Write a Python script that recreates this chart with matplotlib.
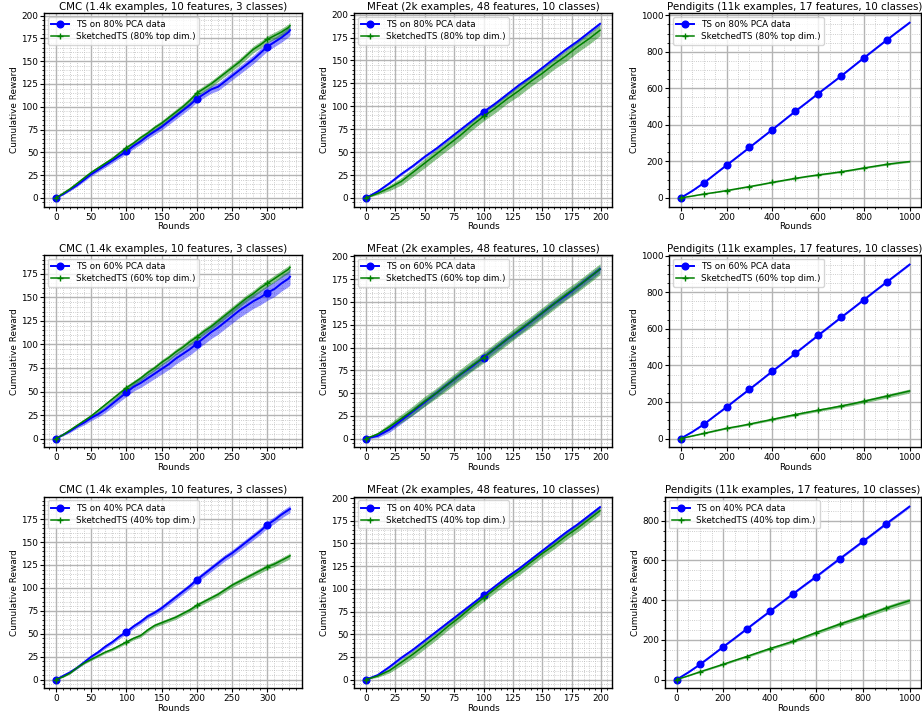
import matplotlib
matplotlib.use("Agg")
import matplotlib.pyplot as plt

# ---- rounds ----
cmc_rounds = list(range(0, 331, 10)) + [332]
mfeat_rounds = list(range(0, 191, 10)) + [199]
pend_rounds = list(range(0, 951, 50)) + [999]

# ---- CMC ----
cmc80_ts = [0, 4, 9, 14, 20, 26, 31, 36, 41, 46, 51, 57, 62, 68, 73, 78, 84, 90, 96, 102,
            109, 114, 119, 122, 128, 134, 140, 146, 152, 159, 166, 171, 176, 182, 184]
cmc80_ts_band = [0, 0.8, 1.2, 1.5, 1.8, 2.0, 2.2, 2.4, 2.6, 2.7, 2.8, 3.0, 3.1, 3.2, 3.3, 3.4,
                 3.5, 3.6, 3.7, 3.8, 3.9, 4.0, 4.1, 4.2, 4.3, 4.4, 4.5, 4.6, 4.7, 4.8, 4.9,
                 5.0, 5.1, 5.2, 5.2]
cmc80_sk = [0, 5, 10, 16, 22, 28, 33, 38, 43, 49, 55, 60, 66, 71, 77, 82, 88, 94, 100, 107,
            115, 120, 125, 131, 137, 143, 149, 156, 163, 168, 174, 178, 182, 187, 189]
cmc80_sk_band = [0, 0.7, 1.0, 1.3, 1.5, 1.7, 1.9, 2.0, 2.2, 2.3, 2.4, 2.5, 2.6, 2.7, 2.8, 2.9,
                 3.0, 3.1, 3.1, 3.2, 3.3, 3.3, 3.4, 3.4, 3.5, 3.5, 3.6, 3.6, 3.7, 3.7, 3.8,
                 3.8, 3.9, 3.9, 3.9]

cmc60_ts = [0, 4, 8, 13, 17, 22, 26, 31, 37, 43, 49, 55, 59, 64, 69, 74, 79, 85, 90, 95,
            101, 107, 113, 118, 124, 130, 136, 141, 146, 150, 155, 159, 165, 170, 172]
cmc60_ts_band = [0, 1.0, 1.5, 2.0, 2.4, 2.8, 3.0, 3.3, 3.6, 3.9, 4.2, 4.5, 4.7, 5.0, 5.2, 5.4,
                 5.6, 5.8, 6.0, 6.2, 6.4, 6.6, 6.8, 7.0, 7.1, 7.3, 7.4, 7.6, 7.7, 7.8, 8.0,
                 8.1, 8.2, 8.3, 8.3]
cmc60_sk = [0, 4, 9, 14, 19, 24, 30, 36, 42, 48, 54, 59, 64, 70, 75, 81, 86, 92, 97, 103,
            108, 114, 119, 125, 131, 137, 143, 149, 154, 160, 165, 170, 175, 180, 182]
cmc60_sk_band = [0, 0.7, 1.0, 1.3, 1.5, 1.7, 1.9, 2.0, 2.2, 2.3, 2.4, 2.5, 2.6, 2.7, 2.8, 2.9,
                 3.0, 3.0, 3.1, 3.2, 3.2, 3.3, 3.3, 3.4, 3.4, 3.5, 3.5, 3.6, 3.6, 3.7, 3.7,
                 3.7, 3.8, 3.8, 3.8]

cmc40_ts = [0, 4, 8, 13, 19, 25, 30, 36, 41, 47, 52, 58, 63, 69, 73, 78, 84, 90, 96, 102,
            109, 115, 121, 127, 133, 138, 144, 150, 156, 162, 169, 174, 180, 185, 186]
cmc40_ts_band = [0, 0.8, 1.0, 1.2, 1.4, 1.6, 1.8, 2.0, 2.1, 2.2, 2.3, 2.4, 2.5, 2.6, 2.7, 2.8,
                 2.9, 3.0, 3.0, 3.1, 3.2, 3.2, 3.3, 3.4, 3.4, 3.5, 3.5, 3.6, 3.6, 3.7, 3.7,
                 3.8, 3.8, 3.9, 3.9]
cmc40_sk = [0, 3, 7, 13, 18, 22, 26, 30, 33, 37, 41, 45, 48, 54, 59, 62, 65, 68, 72, 76,
            81, 85, 89, 93, 98, 103, 107, 111, 115, 119, 123, 126, 130, 134, 135]
cmc40_sk_band = [0, 0.6, 0.8, 1.0, 1.1, 1.2, 1.3, 1.4, 1.5, 1.6, 1.7, 1.8, 1.9, 2.0, 2.0, 2.1,
                 2.1, 2.2, 2.2, 2.3, 2.3, 2.4, 2.4, 2.5, 2.5, 2.6, 2.6, 2.7, 2.7, 2.8, 2.8,
                 2.9, 2.9, 3.0, 3.0]

# ---- MFeat ----
mf80_ts = [0, 7, 16, 26, 35, 45, 54, 64, 74, 84, 94, 103, 113, 123, 132, 142, 152, 162, 171, 181, 190]
mf80_ts_band = [0, 0.8, 1.0, 1.2, 1.3, 1.4, 1.5, 1.5, 1.5, 1.6, 1.6, 1.6, 1.7, 1.7, 1.7, 1.8,
                1.8, 1.8, 1.9, 1.9, 1.9]
mf80_sk = [0, 5, 11, 18, 28, 38, 48, 58, 68, 79, 89, 98, 108, 117, 127, 136, 146, 155, 165, 174, 183]
mf80_sk_band = [0, 1.5, 3, 4, 4.5, 5, 5, 5, 5, 5, 5, 5, 5, 5.5, 5.5, 5.5, 5.5, 6, 6, 6, 6]

mf60_ts = [0, 3, 10, 20, 30, 40, 50, 60, 70, 79, 89, 99, 109, 118, 128, 138, 148, 157, 167, 177, 186]
mf60_ts_band = [0, 2, 3, 3.5, 4, 4, 4, 4, 4, 4, 4, 4, 4, 4, 4, 4, 4, 4, 4, 4, 4]
mf60_sk = [0, 5, 13, 22, 31, 41, 50, 60, 70, 80, 89, 99, 109, 119, 128, 138, 148, 158, 167, 177, 186]
mf60_sk_band = [0, 2, 3.5, 4.5, 5, 5.5, 5.5, 6, 6, 6, 6, 6, 6, 6, 6, 6, 6, 6, 6, 6, 6]

mf40_ts = [0, 5, 14, 24, 33, 43, 53, 63, 73, 83, 93, 103, 113, 122, 132, 142, 152, 162, 171, 181, 190]
mf40_ts_band = [0, 1, 1.3, 1.5, 1.5, 1.6, 1.6, 1.6, 1.7, 1.7, 1.7, 1.7, 1.8, 1.8, 1.8, 1.8,
                1.8, 1.9, 1.9, 1.9, 1.9]
mf40_sk = [0, 4, 10, 19, 28, 38, 48, 59, 69, 80, 90, 100, 110, 119, 129, 139, 148, 158, 167, 177, 186]
mf40_sk_band = [0, 1.5, 2.5, 3.5, 4, 4, 4, 4, 4, 4, 4, 4, 4, 4, 4, 4, 4, 4, 4, 4, 4]

# ---- Pendigits ----
pd80_ts = [0, 38, 81, 130, 179, 227, 276, 325, 374, 424, 474, 522, 571, 619, 667, 717, 767,
           816, 865, 913, 959]
pd80_ts_band = [0, 2, 2, 2, 2.5, 2.5, 2.5, 2.5, 3, 3, 3, 3, 3, 3, 3, 3, 3.5, 3.5, 3.5, 3.5, 3.5]
pd80_sk = [0, 10, 21, 30, 40, 51, 62, 73, 85, 96, 107, 117, 126, 134, 143, 153, 164, 174, 184,
           192, 199]
pd80_sk_band = [0, 1, 2, 2, 2.5, 2.5, 3, 3, 3, 3.5, 3.5, 3.5, 4, 4, 4, 4, 4, 4.5, 4.5, 4.5, 4.5]

pd60_ts = [0, 36, 77, 125, 172, 221, 269, 318, 368, 416, 465, 515, 564, 613, 662, 710, 759,
           808, 856, 904, 951]
pd60_ts_band = [0, 2, 2.5, 2.5, 3, 3, 3, 3, 3.5, 3.5, 3.5, 3.5, 4, 4, 4, 4, 4, 4, 4.5, 4.5, 4.5]
pd60_sk = [0, 14, 28, 42, 56, 67, 79, 92, 105, 118, 131, 143, 155, 166, 178, 190, 204, 218,
           232, 246, 260]
pd60_sk_band = [0, 2, 3, 3.5, 4, 4.5, 5, 5.5, 6, 6, 6.5, 7, 7, 7.5, 8, 8.5, 9, 9.5, 10, 10.5, 11]

pd40_ts = [0, 36, 76, 120, 165, 209, 254, 299, 343, 388, 432, 476, 519, 564, 608, 652, 696,
           740, 785, 828, 871]
pd40_ts_band = [0, 2, 3, 3, 3.5, 3.5, 4, 4, 4, 4.5, 4.5, 4.5, 5, 5, 5, 5, 5.5, 5.5, 5.5, 6, 6]
pd40_sk = [0, 19, 39, 58, 77, 97, 116, 136, 156, 174, 193, 215, 237, 258, 279, 299, 319, 339,
           360, 379, 397]
pd40_sk_band = [0, 2, 3, 4, 4.5, 5, 5.5, 6, 6.5, 7, 7.5, 8, 8.5, 9, 9.5, 10, 10.5, 11, 11.5,
                12, 12.5]

titles = ["CMC (1.4k examples, 10 features, 3 classes)",
          "MFeat (2k examples, 48 features, 10 classes)",
          "Pendigits (11k examples, 17 features, 10 classes)"]
percents = [80, 60, 40]

panels = [
    [(cmc_rounds, cmc80_ts, cmc80_ts_band, cmc80_sk, cmc80_sk_band),
     (mfeat_rounds, mf80_ts, mf80_ts_band, mf80_sk, mf80_sk_band),
     (pend_rounds, pd80_ts, pd80_ts_band, pd80_sk, pd80_sk_band)],
    [(cmc_rounds, cmc60_ts, cmc60_ts_band, cmc60_sk, cmc60_sk_band),
     (mfeat_rounds, mf60_ts, mf60_ts_band, mf60_sk, mf60_sk_band),
     (pend_rounds, pd60_ts, pd60_ts_band, pd60_sk, pd60_sk_band)],
    [(cmc_rounds, cmc40_ts, cmc40_ts_band, cmc40_sk, cmc40_sk_band),
     (mfeat_rounds, mf40_ts, mf40_ts_band, mf40_sk, mf40_sk_band),
     (pend_rounds, pd40_ts, pd40_ts_band, pd40_sk, pd40_sk_band)],
]

W, H = 922, 712
fig = plt.figure(figsize=(W / 100, H / 100), dpi=100)

# axes boxes in pixels: (left, top, right, bottom)
col_lr = [(44.3, 301.7), (354.3, 611.7), (669.3, 921.0)]
row_tb = [(13.3, 206.7), (255.0, 447.3), (496.7, 688.3)]
col3_left_row = [669.3, 669.3, 665.0]

FS_TICK = 6.4
FS_LABEL = 6.4
FS_TITLE = 7.4
FS_LEG = 6.3

for r in range(3):
    for c in range(3):
        left, right = col_lr[c]
        if c == 2:
            left = col3_left_row[r]
        top, bottom = row_tb[r]
        ax = fig.add_axes([left / W, 1 - bottom / H, (right - left) / W, (bottom - top) / H])
        x, ts, ts_b, sk, sk_b = panels[r][c]
        marks = [i for i, v in enumerate(x) if v % 100 == 0]
        p = percents[r]

        ts_lo = [m - b for m, b in zip(ts, ts_b)]
        ts_hi = [m + b for m, b in zip(ts, ts_b)]
        sk_lo = [m - b for m, b in zip(sk, sk_b)]
        sk_hi = [m + b for m, b in zip(sk, sk_b)]

        ax.plot(x, ts, color="b", lw=1.4, marker="o", ms=4.8, markevery=marks,
                label=f"TS on {p}% PCA data", zorder=3)
        ax.fill_between(x, ts_lo, ts_hi, color="b", alpha=0.42, lw=0, zorder=2)
        ax.plot(x, sk, color="g", lw=1.1, marker="+", ms=4, mew=1.0, markevery=marks,
                label=f"SketchedTS ({p}% top dim.)", zorder=3)
        ax.fill_between(x, sk_lo, sk_hi, color="g", alpha=0.45, lw=0, zorder=2)

        ax.minorticks_on()
        ax.grid(which="major", color="#b4b4b4", linestyle="-", linewidth=1.0)
        ax.grid(which="minor", color="#bdbdbd", linestyle=":", linewidth=0.6)
        ax.set_axisbelow(True)
        ax.tick_params(which="major", labelsize=FS_TICK, length=2.6, width=0.8, pad=1.8)
        ax.tick_params(which="minor", length=1.5, width=0.6)
        for s in ax.spines.values():
            s.set_linewidth(1.0)
        ax.set_title(titles[c], fontsize=FS_TITLE, pad=2.5)
        ax.set_xlabel("Rounds", fontsize=FS_LABEL, labelpad=0.3)
        ax.set_ylabel("Cumulative Reward", fontsize=FS_LABEL, labelpad=1.5)
        ax.legend(loc="upper left", fontsize=FS_LEG, borderaxespad=0.4,
                  handlelength=2.0, labelspacing=0.35, borderpad=0.4)

fig.savefig("out.png", dpi=100)
